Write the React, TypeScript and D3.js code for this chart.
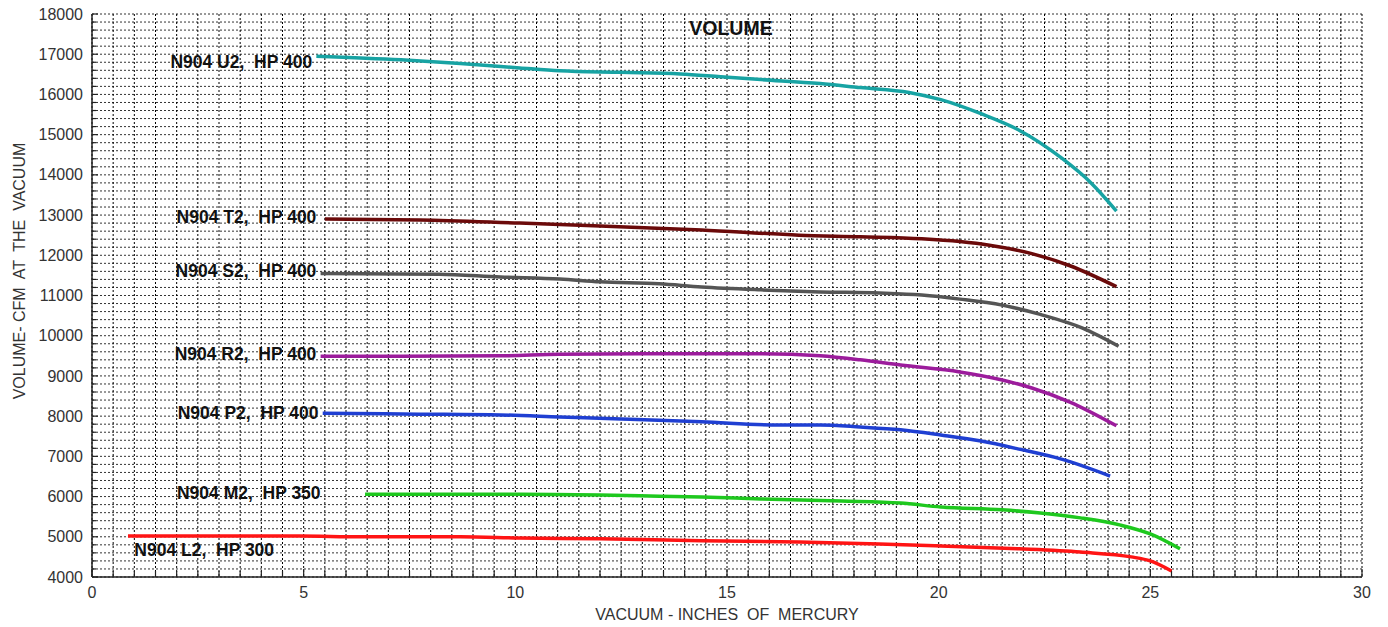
import React from "react";
import * as d3 from "d3";

const W = 1388;
const H = 627;

const xTicks = [0, 5, 10, 15, 20, 25, 30];
const yTicks = [4000, 5000, 6000, 7000, 8000, 9000, 10000, 11000, 12000, 13000, 14000, 15000, 16000, 17000, 18000];

const seriesNames = ["N904 U2,  HP 400", "N904 T2,  HP 400", "N904 S2,  HP 400", "N904 R2,  HP 400", "N904 P2,  HP 400", "N904 M2,  HP 350", "N904 L2,  HP 300"];
const seriesColors = ["#17a3a3", "#6b0a0a", "#555555", "#9c1c9c", "#1f3fd2", "#1ec81e", "#ff1414"];

const u2: [number, number][] = [[5.3, 16950], [7.3, 16860], [8.7, 16770], [10.1, 16660], [11.05, 16590], [12.5, 16550], [13.9, 16510], [14.85, 16440], [15.8, 16370], [17.2, 16270], [18.15, 16170], [19.3, 16050], [20.05, 15870], [21.0, 15520], [21.9, 15110], [22.9, 14420], [23.6, 13800], [24.2, 13100]];
const t2: [number, number][] = [[5.5, 12900], [7.75, 12880], [10.1, 12800], [12.0, 12730], [14.4, 12630], [16.7, 12500], [18.15, 12460], [19.6, 12410], [20.5, 12340], [21.2, 12250], [22.2, 12040], [23.1, 11740], [24.2, 11220]];
const s2: [number, number][] = [[5.4, 11550], [8.2, 11530], [9.65, 11460], [11.05, 11410], [12.0, 11340], [13.4, 11290], [14.4, 11210], [15.8, 11140], [17.2, 11090], [18.6, 11060], [19.6, 11010], [20.5, 10910], [21.5, 10760], [22.4, 10530], [23.4, 10190], [24.25, 9740]];
const r2: [number, number][] = [[5.4, 9490], [7.3, 9490], [9.65, 9500], [11.05, 9540], [12.95, 9550], [15.8, 9550], [17.2, 9500], [18.15, 9400], [19.1, 9270], [20.5, 9100], [21.5, 8900], [22.2, 8700], [23.1, 8350], [24.2, 7760]];
const p2: [number, number][] = [[5.45, 8070], [7.75, 8050], [9.65, 8030], [11.05, 7980], [12.5, 7930], [14.4, 7860], [16.25, 7780], [17.2, 7780], [18.15, 7730], [19.1, 7660], [20.05, 7530], [21.0, 7380], [21.9, 7180], [22.9, 6930], [24.05, 6510]];
const m2: [number, number][] = [[6.45, 6060], [8.2, 6060], [10.1, 6060], [12.0, 6040], [13.4, 6010], [14.4, 5990], [15.8, 5940], [17.7, 5890], [19.1, 5840], [20.05, 5740], [21.5, 5670], [22.4, 5590], [23.35, 5470], [24.3, 5290], [25.0, 5070], [25.7, 4700]];
const l2: [number, number][] = [[0.85, 5020], [4.9, 5020], [6.35, 5000], [8.7, 5000], [10.1, 4970], [12.0, 4950], [14.4, 4900], [16.7, 4870], [18.6, 4820], [20.05, 4770], [21.9, 4700], [23.35, 4620], [24.55, 4500], [25.0, 4400], [25.5, 4150]];

const seriesData = [u2, t2, s2, r2, p2, m2, l2];
// label anchor positions in data units (x = end of text, y = text centre)
const labelX = [5.2, 5.3, 5.3, 5.3, 5.35, 5.4, 1.0];
const labelY = [16800, 12950, 11600, 9550, 8080, 6080, 4680];
const labelAnchor = ["end", "end", "end", "end", "end", "end", "start"];

const margin = { left: 92, right: 26, top: 14, bottom: 50 };

export default function App() {
  const x = d3.scaleLinear().domain([0, 30]).range([margin.left, W - margin.right]);
  const y = d3.scaleLinear().domain([4000, 18000]).range([H - margin.bottom, margin.top]);
  const line = d3
    .line<[number, number]>()
    .x((d) => x(d[0]))
    .y((d) => y(d[1]))
    .curve(d3.curveMonotoneX);

  const xGrid = d3.range(0, 30.001, 0.5);
  const yGrid = d3.range(4000, 18001, 200);
  const font = "'Liberation Sans', Arial, sans-serif";

  return (
    <svg width={W} height={H} style={{ position: "absolute", left: 0, top: 0, background: "#fff" }} fontFamily={font}>
      <rect x={0} y={0} width={W} height={H} fill="#fff" />
      {/* grid */}
      {yGrid.map((v) => (
        <line key={"hy" + v} x1={x(0)} x2={x(30)} y1={y(v)} y2={y(v)} stroke="#333" strokeWidth={1} strokeDasharray="2,2" />
      ))}
      {xGrid.map((v) => (
        <line key={"vx" + v} x1={x(v)} x2={x(v)} y1={y(18000)} y2={y(4000)} stroke="#000" strokeWidth={1} strokeDasharray="2,2" />
      ))}
      {/* axis ticks inside */}
      {xGrid.map((v) => (
        <line key={"tx" + v} x1={x(v)} x2={x(v)} y1={y(4000)} y2={y(4000) - (v % 5 === 0 ? 8 : 6)} stroke="#222" strokeWidth={1.2} />
      ))}
      {yGrid.map((v) => (
        <line key={"ty" + v} x1={x(0)} x2={x(0) + (v % 1000 === 0 ? 6 : 4)} y1={y(v)} y2={y(v)} stroke="#222" strokeWidth={1.2} />
      ))}
      {/* axes */}
      <line x1={x(0)} x2={x(0)} y1={y(18000)} y2={y(4000)} stroke="#222" strokeWidth={1.5} />
      <line x1={x(0)} x2={x(30)} y1={y(4000)} y2={y(4000)} stroke="#222" strokeWidth={1.5} />
      {/* tick labels */}
      {yTicks.map((v) => (
        <text key={"yl" + v} x={x(0) - 9} y={y(v)} dy="0.35em" textAnchor="end" fontSize={16} fill="#333">
          {v}
        </text>
      ))}
      {xTicks.map((v) => (
        <text key={"xl" + v} x={x(v)} y={y(4000) + 21} textAnchor="middle" fontSize={16} fill="#333">
          {v}
        </text>
      ))}
      {/* series */}
      {seriesData.map((d, i) => (
        <path key={"s" + i} d={line(d) || ""} fill="none" stroke={seriesColors[i]} strokeWidth={3.5} strokeLinecap="butt" strokeLinejoin="round" />
      ))}
      {/* labels */}
      {seriesNames.map((n, i) => (
        <text
          key={"lab" + i}
          x={x(labelX[i])}
          y={y(labelY[i])}
          dy="0.35em"
          textAnchor={labelAnchor[i] as any}
          fontSize={17.5}
          fontWeight="bold"
          fill="#111"
          style={{ whiteSpace: "pre" }}
        >
          {n}
        </text>
      ))}
      {/* titles */}
      <text x={731} y={28} dy="0.35em" textAnchor="middle" fontSize={19.5} fontWeight="bold" fill="#111">
        VOLUME
      </text>
      <text x={727} y={614} dy="0.35em" textAnchor="middle" fontSize={16} fill="#333" style={{ whiteSpace: "pre" }}>
        VACUUM - INCHES  OF  MERCURY
      </text>
      <text
        transform={`translate(19, 271) rotate(-90)`}
        dy="0.35em"
        textAnchor="middle"
        fontSize={16}
        fill="#333"
        style={{ whiteSpace: "pre" }}
      >
        VOLUME- CFM  AT  THE  VACUUM
      </text>
    </svg>
  );
}
